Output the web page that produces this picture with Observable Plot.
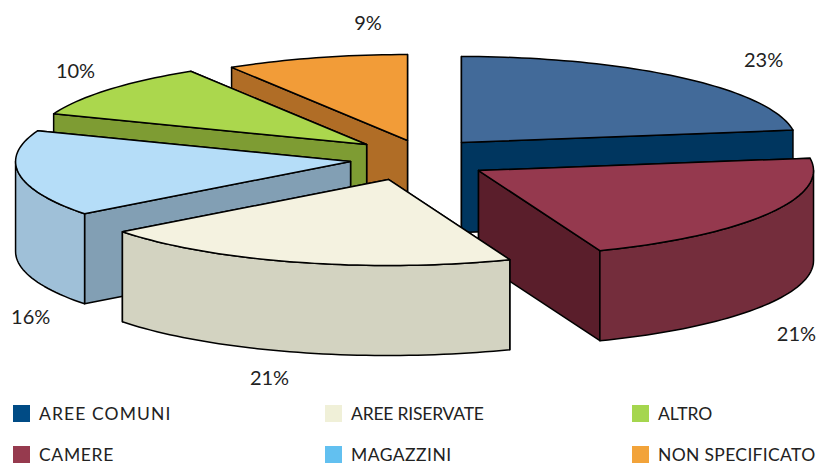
<!DOCTYPE html>
<html lang="it">
<head>
<meta charset="utf-8">
<script src="https://cdn.jsdelivr.net/npm/d3@7"></script>
<script src="https://cdn.jsdelivr.net/npm/@observablehq/plot@0.6"></script>
<style>
html,body{margin:0;padding:0;background:#fff;overflow:hidden;width:829px;height:464px}
svg{display:block}
#legend{position:relative;width:829px;height:69px;font-family:"Lato",sans-serif;font-size:17.5px;line-height:15px;color:#222}
#legend .item{position:absolute;display:flex;align-items:center;height:17px;white-space:nowrap}
#legend i{display:inline-block;width:17px;height:17px;margin-right:9px}
</style>
</head>
<body>
<div id="chart"></div>
<div id="legend"></div>
<script>
// Data
const categories = ["AREE COMUNI","CAMERE","AREE RISERVATE","MAGAZZINI","ALTRO","NON SPECIFICATO"];
const shares = [22.7,21.4,20.5,16.2,10.4,8.8];
// Colours
const topColors = ["#426A99","#95394E","#F4F2E0","#B5DDF8","#ABD74D","#F29C38"];
const wallColors = ["#2F4F73","#742D3C","#D3D3C1","#9FC0D8","#7E9C33","#B06D26"];
const faceColors = ["#00365F","#5A1E2B","#B8B8A8","#829FB4","#7E9C33","#B06D26"];
const legendColors = ["#004B85","#963A4E","#F0F0D8","#62C0F0","#A5D64E","#F2A33A"];
// Layout, in pie-radius units
const pullX = [0.170,0.221,-0.048,-0.161,-0.113,0.009];
const pullY = [0.193,-0.133,-0.237,-0.028,0.170,0.216];
const labelX = [1.072,1.170,-0.403,-1.116,-0.982,-0.109];
const labelY = [1.147,-2.040,-2.550,-1.840,1.020,1.577];
const depth = 1.047;
const paintOrder = [0,5,4,3,1,2];
const legendSpacing = [1.1,0.67,-0.2,0.45,0,0.33];

const W = 829, H = 395, CX = 404, CY = 158.6, RX = 335, RY = 86;
const rad = d => d * Math.PI / 180;

let cum = 0;
const slices = shares.map((s,i) => {
  const a0 = cum * 3.6; cum += s; const a1 = cum * 3.6;
  return {i, a0, a1, ax: pullX[i], ay: pullY[i]};
});
const rim = (s,a,dz=0) => ({x: s.ax + Math.sin(rad(a)), y: s.ay + Math.cos(rad(a)) - dz});
const arc = (s,a0,a1,dz=0) => {
  const n = Math.max(2, Math.ceil(Math.abs(a1-a0)/1.5));
  return d3.range(n+1).map(k => rim(s, a0 + (a1-a0)*k/n, dz));
};
const rows = [];
let pid = 0;
const addPoly = (pts, color) => {
  const id = pid++;
  [...pts, pts[0]].forEach(p => rows.push({x:p.x, y:p.y, id, color}));
};
const radialFace = (s,a,color) => {
  const r = rim(s,a), r2 = rim(s,a,depth);
  addPoly([{x:s.ax,y:s.ay}, r, r2, {x:s.ax,y:s.ay-depth}], color);
};
for (const idx of paintOrder) {
  const s = slices[idx];
  const mid = (s.a0+s.a1)/2;
  const seq = mid > 180 ? [s.a1,s.a0] : [s.a0,s.a1];
  seq.forEach(a => radialFace(s,a,faceColors[idx]));
  const w0 = Math.max(s.a0,90), w1 = Math.min(s.a1,270);
  if (w1 > w0) addPoly([...arc(s,w0,w1), ...arc(s,w1,w0,depth)], wallColors[idx]);
  addPoly([{x:s.ax,y:s.ay}, ...arc(s,s.a0,s.a1)], topColors[idx]);
}
const labels = shares.map((s,i) => ({x:labelX[i], y:labelY[i], t:Math.round(s)+"%"}));

const chart = Plot.plot({
  width:W, height:H, margin:0,
  style:{background:"#fff"},
  x:{domain:[-CX/RX,(W-CX)/RX], range:[0,W], axis:null},
  y:{domain:[CY/RY,(CY-H)/RY], range:[0,H], axis:null},
  color:{type:"identity"},
  marks:[
    Plot.line(rows,{x:"x",y:"y",z:"id",fill:d=>d.color,stroke:"#000",strokeWidth:1.5,strokeLinejoin:"round",curve:"linear"}),
    Plot.text(labels,{x:"x",y:"y",text:"t",fontSize:20,fontFamily:"Lato, sans-serif",fill:"#222"})
  ]
});
document.getElementById("chart").append(chart);

const legendOrder = [[0,13,405],[2,325,405],[4,632,405],[1,13,446],[3,325,446],[5,632,446]];
const lg = document.getElementById("legend");
legendOrder.forEach(([i,x,y]) => {
  const el = document.createElement("div");
  el.className = "item";
  el.style.left = x+"px";
  el.style.top = (y-H)+"px";
  el.style.letterSpacing = legendSpacing[i]+"px";
  el.innerHTML = `<i style="background:${legendColors[i]}"></i>${categories[i]}`;
  lg.append(el);
});
</script>
</body>
</html>
